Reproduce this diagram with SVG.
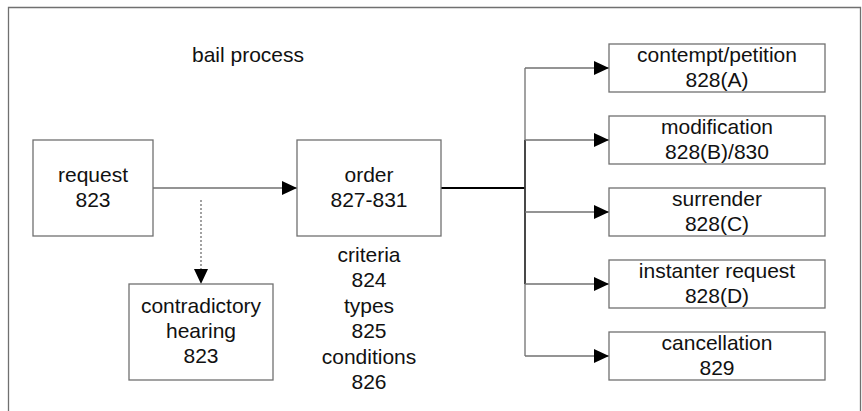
<svg xmlns="http://www.w3.org/2000/svg" width="862" height="411" viewBox="0 0 862 411">
<defs>
<style>
.box{fill:#fff;stroke:#707070;stroke-width:1.3}
.t{font-family:"Liberation Sans",Arial,sans-serif;font-size:21px;fill:#111;text-anchor:middle}
.ln{fill:none;stroke:#707070;stroke-width:1.3}
</style>
<marker id="ah" markerUnits="userSpaceOnUse" markerWidth="16" markerHeight="14" refX="15" refY="7" orient="auto">
<path d="M0,0 L15,7 L0,14 Z" fill="#000"/>
</marker>
</defs>
<rect x="0" y="0" width="862" height="411" fill="#fff"/>
<path d="M8.5,415 V7.5 H860.5 V415" class="ln"/>
<text class="t" x="248" y="62">bail process</text>
<g id="connectors">
<line x1="153" y1="188" x2="297" y2="188" class="ln" marker-end="url(#ah)"/>
<line x1="201" y1="200" x2="201" y2="284" class="ln" stroke-dasharray="2,2" marker-end="url(#ah)"/>
<line x1="441" y1="188" x2="525" y2="188" stroke="#000" stroke-width="2"/>
<line x1="525" y1="68" x2="525" y2="356" class="ln"/>
<line x1="525" y1="140" x2="525" y2="284" stroke="#333" stroke-width="1.6"/>
<line x1="525" y1="68" x2="609" y2="68" class="ln" marker-end="url(#ah)"/>
<line x1="525" y1="140" x2="609" y2="140" class="ln" marker-end="url(#ah)"/>
<line x1="525" y1="212" x2="609" y2="212" class="ln" marker-end="url(#ah)"/>
<line x1="525" y1="284" x2="609" y2="284" class="ln" marker-end="url(#ah)"/>
<line x1="525" y1="356" x2="609" y2="356" class="ln" marker-end="url(#ah)"/>
</g>
<g id="request">
<rect class="box" x="33" y="140" width="120" height="96"/>
<text class="t" x="93" y="182">request</text>
<text class="t" x="93" y="207">823</text>
</g>
<g id="order">
<rect class="box" x="297" y="140" width="144" height="96"/>
<text class="t" x="369" y="182">order</text>
<text class="t" x="369" y="207">827-831</text>
</g>
<g id="order-notes">
<text class="t" x="369" y="262">criteria</text>
<text class="t" x="369" y="287">824</text>
<text class="t" x="369" y="313">types</text>
<text class="t" x="369" y="338">825</text>
<text class="t" x="369" y="364">conditions</text>
<text class="t" x="369" y="389">826</text>
</g>
<g id="hearing">
<rect class="box" x="129" y="284" width="144" height="96"/>
<text class="t" x="201" y="313">contradictory</text>
<text class="t" x="201" y="338">hearing</text>
<text class="t" x="201" y="363">823</text>
</g>
<g id="contempt">
<rect class="box" x="609" y="44" width="216" height="48"/>
<text class="t" x="717" y="62">contempt/petition</text>
<text class="t" x="717" y="87">828(A)</text>
</g>
<g id="modification">
<rect class="box" x="609" y="116" width="216" height="48"/>
<text class="t" x="717" y="134">modification</text>
<text class="t" x="717" y="159">828(B)/830</text>
</g>
<g id="surrender">
<rect class="box" x="609" y="188" width="216" height="48"/>
<text class="t" x="717" y="206">surrender</text>
<text class="t" x="717" y="231">828(C)</text>
</g>
<g id="instanter">
<rect class="box" x="609" y="260" width="216" height="48"/>
<text class="t" x="717" y="278">instanter request</text>
<text class="t" x="717" y="303">828(D)</text>
</g>
<g id="cancellation">
<rect class="box" x="609" y="332" width="216" height="48"/>
<text class="t" x="717" y="350">cancellation</text>
<text class="t" x="717" y="375">829</text>
</g>
</svg>
